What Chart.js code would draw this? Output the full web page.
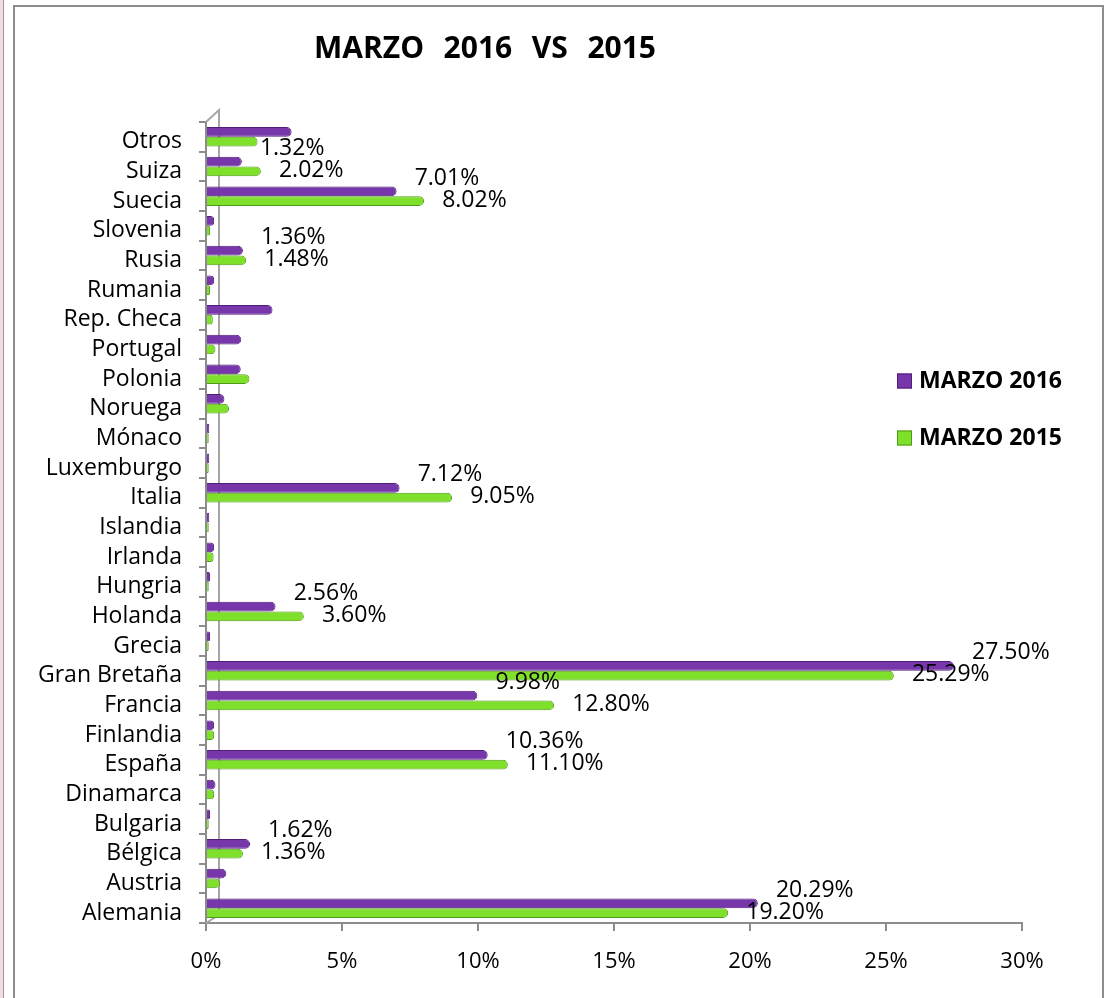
<!DOCTYPE html>
<html lang="es">
<head>
<meta charset="utf-8">
<title>MARZO 2016 VS 2015</title>
<script src="https://cdn.jsdelivr.net/npm/chart.js@4.4.1/dist/chart.umd.min.js"></script>
<style>
    html, body { margin: 0; padding: 0; background: #fff; }
    body { width: 1104px; height: 998px; position: relative; overflow: hidden; }
    /* borde de la hoja de cálculo a la izquierda */
    #sheet-edge { position: absolute; left: 0; top: 0; width: 3px; height: 998px; background: #f2dbe4; border-right: 1px solid #9a9a9a; }
    #frame { position: absolute; left: 13px; top: 5px; width: 1087px; height: 1010px; border: 2px solid #8c8c8c; }
    #wrap { position: absolute; left: 0; top: 0; width: 1104px; height: 998px; }
</style>
</head>
<body>
<div id="sheet-edge"></div>
<div id="frame"></div>
<div id="wrap"><canvas id="chart" width="1104" height="998"></canvas></div>
<script>
// ----- DATOS -----
const TITLE = 'MARZO  2016  VS  2015';
const SERIES_NAMES = ['MARZO 2016', 'MARZO 2015'];

// de arriba hacia abajo, como en el gráfico
const CATEGORIES = [
    'Otros', 'Suiza', 'Suecia', 'Slovenia', 'Rusia', 'Rumania', 'Rep. Checa',
    'Portugal', 'Polonia', 'Noruega', 'Mónaco', 'Luxemburgo', 'Italia', 'Islandia',
    'Irlanda', 'Hungria', 'Holanda', 'Grecia', 'Gran Bretaña', 'Francia',
    'Finlandia', 'España', 'Dinamarca', 'Bulgaria', 'Bélgica', 'Austria', 'Alemania'
];
const MARZO_2016 = [
    3.15, 1.32, 7.01, 0.30, 1.36, 0.30, 2.45,
    1.30, 1.28, 0.68, 0.12, 0.12, 7.12, 0.12,
    0.30, 0.15, 2.56, 0.15, 27.50, 9.98,
    0.30, 10.36, 0.35, 0.15, 1.62, 0.75, 20.29
];
const MARZO_2015 = [
    1.90, 2.02, 8.02, 0.15, 1.48, 0.15, 0.25,
    0.35, 1.60, 0.85, 0.10, 0.10, 9.05, 0.10,
    0.28, 0.10, 3.60, 0.10, 25.29, 12.80,
    0.30, 11.10, 0.30, 0.10, 1.36, 0.52, 19.20
];
// categorías con etiqueta de valor
const LABELED = ['Suiza', 'Suecia', 'Rusia', 'Italia', 'Holanda', 'Gran Bretaña', 'Francia', 'España', 'Bélgica', 'Alemania'];
const X_TICKS = [0, 5, 10, 15, 20, 25, 30];

// ----- ESTILO -----
const FONT = '"Open Sans", "Liberation Sans", sans-serif';
const PURPLE = '#7736aa';
const PURPLE_EDGE = '#4e1e78';
const GREEN = '#7fe02c';
const GREEN_EDGE = '#4f9a16';
const AXIS_GREY = '#8c8c8c';

// pared 3D, título, leyenda y etiquetas
const decorPlugin = {
    id: 'decor',
    beforeDatasetsDraw(chart) {
        const { ctx, chartArea: a } = chart;
        ctx.save();
        ctx.strokeStyle = '#a6a6a6';
        ctx.lineWidth = 2;
        ctx.beginPath();
        ctx.moveTo(a.left, a.top);
        ctx.lineTo(a.left + 13, a.top - 12);
        ctx.lineTo(a.left + 13, a.bottom - 8);
        ctx.lineTo(a.left, a.bottom);
        ctx.stroke();
        ctx.restore();
    },
    afterDatasetsDraw(chart) {
        const { ctx } = chart;
        ctx.save();
        ctx.font = `23px ${FONT}`;
        ctx.fillStyle = '#000';
        ctx.textAlign = 'left';
        ctx.textBaseline = 'middle';
        chart.data.datasets.forEach((ds, di) => {
            const meta = chart.getDatasetMeta(di);
            meta.data.forEach((bar, i) => {
                if (!LABELED.includes(chart.data.labels[i])) return;
                const dy = di === 0 ? -13 : -1;
                ctx.fillText(ds.data[i].toFixed(2) + '%', bar.x + 18, bar.y + dy);
            });
        });
        ctx.restore();
    },
    afterDraw(chart) {
        const { ctx } = chart;
        ctx.save();
        // título
        ctx.font = `bold 30px ${FONT}`;
        ctx.fillStyle = '#000';
        ctx.textAlign = 'center';
        ctx.textBaseline = 'middle';
        ctx.wordSpacing = '2px';
        ctx.fillText(TITLE, 485, 49);
        ctx.wordSpacing = '0px';

        // leyenda
        ctx.textAlign = 'left';
        ctx.font = `bold 23px ${FONT}`;
        chart.data.datasets.forEach((ds, i) => {
            const y = 381 + i * 57;
            ctx.fillStyle = ds.backgroundColor;
            ctx.fillRect(897, y - 7.5, 15, 15);
            ctx.strokeStyle = ds.borderColor;
            ctx.lineWidth = 1;
            ctx.strokeRect(897.5, y - 7, 14, 14);
            ctx.fillStyle = '#000';
            ctx.fillText(ds.label, 919, y);
        });
        ctx.restore();
    }
};

const ctx = document.getElementById('chart').getContext('2d');
new Chart(ctx, {
    type: 'bar',
    data: {
        labels: CATEGORIES,
        datasets: [
            {
                label: SERIES_NAMES[0],
                data: MARZO_2016,
                backgroundColor: PURPLE,
                borderColor: PURPLE_EDGE
            },
            {
                label: SERIES_NAMES[1],
                data: MARZO_2015,
                backgroundColor: GREEN,
                borderColor: GREEN_EDGE
            }
        ]
    },
    options: {
        indexAxis: 'y',
        responsive: false,
        animation: false,
        layout: { padding: { top: 122, right: 82, left: 0, bottom: 0 } },
        datasets: {
            bar: {
                categoryPercentage: 0.66,
                barPercentage: 1.0,
                borderWidth: 1,
                borderRadius: 5,
                borderSkipped: 'start'
            }
        },
        plugins: {
            legend: { display: false },
            title: { display: false },
            tooltip: { enabled: false }
        },
        scales: {
            x: {
                min: 0,
                max: 30,
                afterBuildTicks: s => { s.ticks = X_TICKS.map(v => ({ value: v })); },
                afterFit: s => { s.height = 75; },
                grid: { drawOnChartArea: false, tickLength: 8, color: AXIS_GREY, lineWidth: 2 },
                border: { color: AXIS_GREY, width: 2 },
                ticks: {
                    callback: v => v + '%',
                    color: '#000',
                    font: { family: FONT, size: 22 },
                    padding: 18,
                    maxRotation: 0
                }
            },
            y: {
                afterFit: s => { s.width = 206; },
                grid: { drawOnChartArea: false, tickLength: 7, color: AXIS_GREY, lineWidth: 2, offset: true },
                border: { color: AXIS_GREY, width: 2 },
                ticks: {
                    color: '#000',
                    font: { family: FONT, size: 23 },
                    padding: 17,
                    labelOffset: 5,
                    autoSkip: false
                }
            }
        }
    },
    plugins: [decorPlugin]
});
</script>
</body>
</html>
